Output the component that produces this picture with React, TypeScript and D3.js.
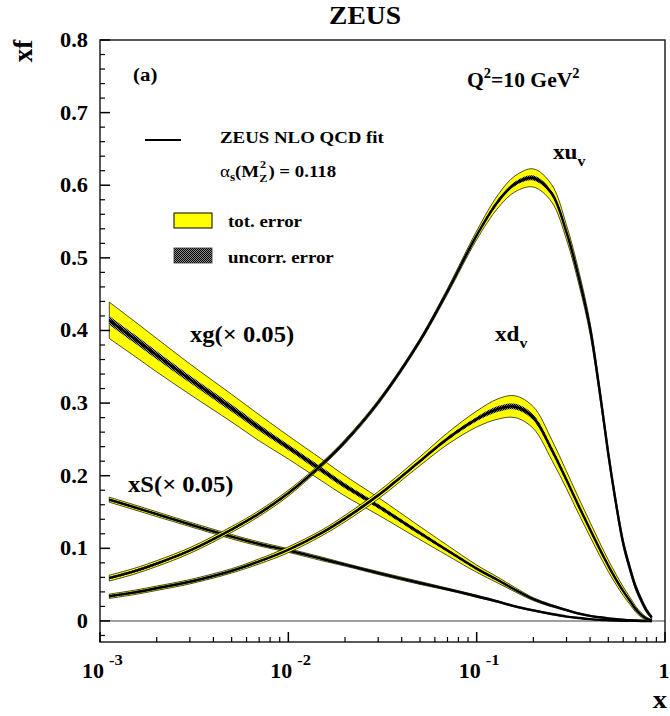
import React from 'react';
import * as d3 from 'd3';

// x grid shared by every curve
const xGrid = [0.00112, 0.0015, 0.002, 0.003, 0.005, 0.007, 0.01, 0.015, 0.02, 0.03, 0.05, 0.07, 0.1, 0.13, 0.16, 0.2, 0.25, 0.3, 0.35, 0.4, 0.45, 0.5, 0.55, 0.6, 0.65, 0.7, 0.75, 0.8, 0.85];

// xu_v : central value, total error, uncorrelated error
const xuvCentral = [0.059, 0.068, 0.079, 0.097, 0.126, 0.148, 0.176, 0.215, 0.247, 0.301, 0.386, 0.454, 0.531, 0.578, 0.602, 0.610, 0.589, 0.535, 0.471, 0.403, 0.316, 0.230, 0.161, 0.107, 0.073, 0.046, 0.028, 0.014, 0.005];
const xuvTot = [0.004, 0.004, 0.004, 0.004, 0.004, 0.004, 0.004, 0.003, 0.003, 0.003, 0.003, 0.004, 0.006, 0.009, 0.011, 0.0125, 0.012, 0.010, 0.009, 0.008, 0.007, 0.006, 0.0055, 0.005, 0.0045, 0.004, 0.0035, 0.003, 0.002];
const xuvUnc = [0.0018, 0.0018, 0.0018, 0.0018, 0.0018, 0.0018, 0.0018, 0.0015, 0.0015, 0.0015, 0.0015, 0.002, 0.002, 0.003, 0.003, 0.0035, 0.003, 0.003, 0.0025, 0.0025, 0.002, 0.002, 0.002, 0.002, 0.0015, 0.0015, 0.0015, 0.001, 0.001];

// xd_v
const xdvCentral = [0.034, 0.039, 0.045, 0.054, 0.069, 0.082, 0.098, 0.121, 0.141, 0.173, 0.220, 0.251, 0.278, 0.292, 0.295, 0.280, 0.236, 0.194, 0.157, 0.126, 0.099, 0.076, 0.057, 0.041, 0.028, 0.016, 0.008, 0.003, 0.001];
const xdvTot = [0.003, 0.003, 0.003, 0.003, 0.003, 0.0035, 0.004, 0.004, 0.0045, 0.005, 0.006, 0.008, 0.011, 0.014, 0.015, 0.015, 0.014, 0.012, 0.011, 0.010, 0.009, 0.008, 0.007, 0.006, 0.005, 0.004, 0.003, 0.002, 0.001];
const xdvUnc = [0.0015, 0.0015, 0.0015, 0.0015, 0.0015, 0.0015, 0.0015, 0.0015, 0.002, 0.002, 0.002, 0.0025, 0.003, 0.004, 0.004, 0.004, 0.004, 0.0035, 0.003, 0.003, 0.0025, 0.0025, 0.002, 0.002, 0.0015, 0.0015, 0.001, 0.0008, 0.0005];

// xg (x 0.05)
const xgCentral = [0.414, 0.390, 0.366, 0.333, 0.293, 0.266, 0.239, 0.208, 0.186, 0.158, 0.121, 0.097, 0.072, 0.056, 0.043, 0.030, 0.021, 0.015, 0.010, 0.007, 0.005, 0.0035, 0.0025, 0.0017, 0.001, 0.0006, 0.0003, 0.0001, 0.0];
const xgTot = [0.025, 0.024, 0.023, 0.021, 0.019, 0.018, 0.016, 0.015, 0.014, 0.012, 0.009, 0.007, 0.005, 0.004, 0.003, 0.002, 0.0015, 0.001, 0.001, 0.0008, 0.0006, 0.0005, 0.0004, 0.0003, 0.0002, 0.0002, 0.0001, 0.0001, 0.0001];
const xgUnc = [0.006, 0.0058, 0.0055, 0.005, 0.005, 0.0045, 0.004, 0.004, 0.0035, 0.003, 0.0025, 0.002, 0.0015, 0.0015, 0.001, 0.001, 0.001, 0.0008, 0.0006, 0.0005, 0.0004, 0.0003, 0.0002, 0.0002, 0.0001, 0.0001, 0.0001, 0.0001, 0.0001];

// xS (x 0.05)
const xsCentral = [0.167, 0.157, 0.147, 0.133, 0.116, 0.106, 0.097, 0.0856, 0.0775, 0.066, 0.0523, 0.0437, 0.034, 0.0265, 0.020, 0.0145, 0.0095, 0.006, 0.004, 0.0025, 0.0015, 0.001, 0.0006, 0.0003, 0.0001, 0.0001, 0.0, 0.0, 0.0];
const xsTot = [0.0035, 0.0034, 0.0033, 0.003, 0.003, 0.0028, 0.0025, 0.0025, 0.002, 0.002, 0.002, 0.0015, 0.0015, 0.0012, 0.001, 0.001, 0.0008, 0.0006, 0.0005, 0.0004, 0.0003, 0.0002, 0.0002, 0.0001, 0.0001, 0.0001, 0.0, 0.0, 0.0];
const xsUnc = [0.0016, 0.0016, 0.0015, 0.0014, 0.0013, 0.0012, 0.0011, 0.001, 0.001, 0.001, 0.0009, 0.0008, 0.0007, 0.0006, 0.0005, 0.0005, 0.0004, 0.0003, 0.0002, 0.0002, 0.0001, 0.0001, 0.0, 0.0, 0.0, 0.0, 0.0, 0.0, 0.0];

// axis ticks
const yMajor = [0, 0.1, 0.2, 0.3, 0.4, 0.5, 0.6, 0.7, 0.8];
const yMajorLabels = ['0', '0.1', '0.2', '0.3', '0.4', '0.5', '0.6', '0.7', '0.8'];
const xDecades = [0.001, 0.01, 0.1, 1];
const xExponents = ['-3', '-2', '-1', ''];

const W = 670;
const H = 716;
const FONT = '"Liberation Serif", "Times New Roman", serif';

const xScale = d3.scaleLog().domain([1e-3, 1]).range([100, 665]);
const yScale = d3.scaleLinear().domain([-0.029, 0.8]).range([642, 40]);

const series = [
  { key: 'xg', c: xgCentral, tot: xgTot, unc: xgUnc },
  { key: 'xs', c: xsCentral, tot: xsTot, unc: xsUnc },
  { key: 'xdv', c: xdvCentral, tot: xdvTot, unc: xdvUnc },
  { key: 'xuv', c: xuvCentral, tot: xuvTot, unc: xuvUnc },
];

const curve = d3.curveCatmullRom.alpha(0.5);

const band = (c: number[], e: number[]) =>
  d3.area<number>()
    .x((_, i) => xScale(xGrid[i]))
    .y0((_, i) => yScale(Math.max(0, c[i] - e[i])))
    .y1((_, i) => yScale(c[i] + e[i]))
    .curve(curve)(c) || '';

const centre = (c: number[]) =>
  d3.line<number>()
    .x((_, i) => xScale(xGrid[i]))
    .y(d => yScale(d))
    .curve(curve)(c) || '';

// bold serif text, slightly stretched sideways like the original print
const T: React.FC<{ x: number; y: number; size: number; sx?: number; anchor?: string; children: React.ReactNode }> =
  ({ x, y, size, sx = 1.1, anchor = 'start', children }) => (
    <text
      transform={`translate(${x},${y}) scale(${sx},1)`}
      textAnchor={anchor}
      fontSize={size}
      fontFamily={FONT}
      fontWeight="bold"
    >
      {children}
    </text>
  );

const App: React.FC = () => {
  const [x0, x1] = xScale.range();
  const [yb, yt] = yScale.range();

  // minor ticks
  const yMinor = d3.range(-0.02, 0.8001, 0.02).filter(v => Math.abs(Math.round(v * 10) - v * 10) > 1e-6);
  const xMinor: number[] = [];
  xDecades.slice(0, 3).forEach(d => { for (let k = 2; k <= 9; k++) xMinor.push(d * k); });

  return (
    <svg width={W} height={H} style={{ position: 'absolute', left: 0, top: 0, background: '#fff' }}>
      <defs>
        <pattern id="uncorr" width="2" height="2" patternUnits="userSpaceOnUse">
          <rect width="2" height="2" fill="#8a8a8a" />
          <rect width="1" height="1" fill="#000" />
          <rect x="1" y="1" width="1" height="1" fill="#000" />
        </pattern>
        <clipPath id="plot">
          <rect x={x0} y={yt} width={x1 - x0} height={yb - yt} />
        </clipPath>
      </defs>

      {/* title */}
      <T x={365} y={24} size={26} sx={1.06} anchor="middle">ZEUS</T>

      {/* zero line */}
      <line x1={x0} x2={x1} y1={yScale(0)} y2={yScale(0)} stroke="#808080" strokeWidth={1.6} />

      {/* curves */}
      <g clipPath="url(#plot)">
        {series.map(s => (
          <g key={s.key}>
            <path d={band(s.c, s.tot)} fill="#ffff00" stroke="#000" strokeWidth={0.7} />
            <path d={band(s.c, s.unc)} fill="url(#uncorr)" stroke="none" />
            <path d={centre(s.c)} fill="none" stroke="#000" strokeWidth={2.4} />
          </g>
        ))}
      </g>

      {/* frame */}
      <rect x={x0} y={yt} width={x1 - x0} height={yb - yt} fill="none" stroke="#222" strokeWidth={1.5} />

      {/* y ticks */}
      {yMajor.map((v, i) => (
        <g key={'ym' + i}>
          <line x1={x0} x2={x0 + 10} y1={yScale(v)} y2={yScale(v)} stroke="#000" strokeWidth={1.5} />
          <T x={88} y={yScale(v) + 7} size={20} sx={1.12} anchor="end">{yMajorLabels[i]}</T>
        </g>
      ))}
      {yMinor.map((v, i) => (
        <line key={'yn' + i} x1={x0} x2={x0 + 5} y1={yScale(v)} y2={yScale(v)} stroke="#000" strokeWidth={1.2} />
      ))}

      {/* x ticks */}
      {xDecades.map((d, i) => (
        <g key={'xm' + i}>
          <line x1={xScale(d)} x2={xScale(d)} y1={yb} y2={yb - 10} stroke="#000" strokeWidth={1.5} />
          {xExponents[i] ? (
            <>
              <T x={xScale(d) + 4} y={678} size={20} anchor="end">10</T>
              <T x={xScale(d) + 9} y={665} size={15}>{xExponents[i]}</T>
            </>
          ) : (
            <T x={xScale(d) - 1} y={678} size={20} anchor="middle">1</T>
          )}
        </g>
      ))}
      {xMinor.map((v, i) => (
        <line key={'xn' + i} x1={xScale(v)} x2={xScale(v)} y1={yb} y2={yb - 5} stroke="#000" strokeWidth={1.2} />
      ))}

      {/* axis titles */}
      <T x={667} y={708} size={26} anchor="end">x</T>
      <text transform="translate(32,51) rotate(-90)" textAnchor="middle" fontSize={27} fontFamily={FONT} fontWeight="bold">xf</text>

      {/* annotations */}
      <T x={133} y={81} size={19}>(a)</T>
      <T x={467} y={87} size={21} sx={1.03}>
        Q<tspan dy={-9} fontSize={14}>2</tspan><tspan dy={9}>=10 GeV</tspan><tspan dy={-9} fontSize={14}>2</tspan>
      </T>

      {/* legend */}
      <line x1={145} x2={181} y1={140} y2={140} stroke="#000" strokeWidth={2} />
      <T x={220} y={143} size={17} sx={1.11}>ZEUS NLO QCD fit</T>
      <T x={220} y={177} size={17} sx={1.11}>
        <tspan fontWeight="normal">α</tspan><tspan dy={4} fontSize={12}>s</tspan><tspan dy={-4}>(M</tspan>
        <tspan dy={5} fontSize={11}>Z</tspan><tspan dy={-5} dx={1}>) = 0.118</tspan>
      </T>
      <T x={260} y={168} size={11}>2</T>
      <rect x={174} y={213} width={38} height={15} fill="#ffff00" stroke="#000" strokeWidth={1} />
      <T x={228} y={227} size={17} sx={1.11}>tot. error</T>
      <rect x={174} y={248} width={38} height={15} fill="url(#uncorr)" stroke="#333" strokeWidth={0.8} />
      <T x={228} y={263} size={17} sx={1.11}>uncorr. error</T>

      {/* curve labels */}
      <T x={553} y={159} size={22} sx={1.05}>
        xu<tspan dy={7} fontSize={15}>v</tspan>
      </T>
      <T x={495} y={341} size={22} sx={1.05}>
        xd<tspan dy={7} fontSize={15}>v</tspan>
      </T>
      <T x={190} y={342} size={23} sx={1.07}>xg(× 0.05)</T>
      <T x={128} y={492} size={23} sx={1.07}>xS(× 0.05)</T>
    </svg>
  );
};

export default App;
